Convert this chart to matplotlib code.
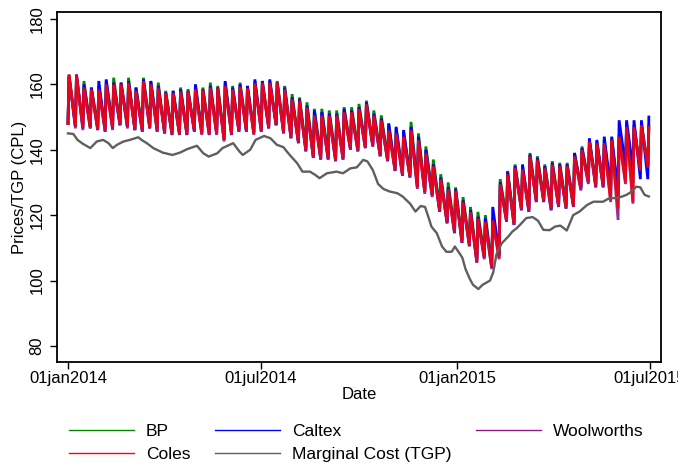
import matplotlib
matplotlib.use('Agg')
import matplotlib.pyplot as plt
from matplotlib.lines import Line2D
import pandas as pd

plt.rcParams['font.family'] = ['Liberation Sans', 'DejaVu Sans']

# weekly price cycles: restoration peak, then trough just before the next restoration
peak_dates = pd.date_range('2014-01-02', '2015-06-30', periods=79)
start_price = 148

coles_peak = [163, 163, 159, 158.5, 158.5, 160, 160, 160, 160.5, 158, 161, 160, 159,
              157.3, 157.3, 157.8, 157.8, 158.5, 158.3, 159, 158.8, 159.5, 158.5, 159.3, 158.8, 160.3, 160.5,
              160.5, 160.5, 158.5, 155.5, 155, 153, 150.5, 150.5, 150.5, 150.5, 151.5, 151.5, 152.5,
              154, 150.5, 149, 146, 145, 144, 146, 143, 139, 135, 131, 128, 127.5,
              124, 121, 119, 118, 118.5, 129.5, 132.5, 134.5, 134, 138, 137, 134.5, 135.5,
              135, 135, 138, 140, 142.5, 142, 142, 143, 144, 147, 147, 147.5, 147]
coles_trough = [147.5, 147, 147, 146.5, 146, 147, 148, 147.5, 146.5, 146, 147, 146, 145.5,
                145, 145, 145, 146, 145, 145, 145, 143, 145, 146, 146, 145, 146, 147,
                148, 145.5, 144, 142.5, 140, 138, 137.5, 137.5, 137, 137.5, 140.5, 140, 141,
                141.5, 138.5, 137, 134, 132.5, 132, 128.7, 127.2, 126.2, 121.5, 118, 115, 112,
                111, 106, 107.3, 104.3, 107, 118.5, 117.6, 122, 121.6, 124.6, 124.6, 122.2, 123,
                122.6, 123, 128.3, 130.2, 129.2, 129.2, 124.6, 122, 130, 124, 134, 135]

bp_peak = [163, 162.5, 161, 159, 159.5, 161, 162, 160.5, 162, 159, 162, 161, 160.5,
           158, 158, 159, 158.5, 159.5, 159, 160.5, 159.5, 160.5, 159.5, 160.5, 159.5, 161, 161,
           161, 161, 159.5, 157, 156, 154.5, 152.5, 152.5, 152, 152, 153, 153, 154,
           155, 152, 150.5, 148, 146.5, 145.5, 148.5, 145, 141, 137, 132.5, 130, 128.5,
           125.5, 122.5, 121, 120, 119, 131, 133.5, 135.5, 135, 139, 138, 135.5, 136.5,
           136, 136, 139, 141, 143, 142.5, 143, 143.5, 144.5, 147, 147.5, 148, 147.5]
bp_trough = [147, 147.5, 146.5, 147, 146.5, 147.5, 147.5, 147, 146, 146.5, 147.5, 146.5, 145,
             145.5, 144.5, 145.5, 146, 145.5, 145.5, 145, 144, 145.5, 146, 146.5, 145.5, 146.5, 147,
             147.5, 146, 144.5, 142.5, 140.5, 138.5, 138, 138, 137.5, 138, 140.5, 140.5, 141.5,
             141.5, 139, 137.5, 134.5, 133, 132.5, 129, 127.5, 126.5, 122, 118, 115.5, 112.5,
             111.5, 106.5, 107.5, 105, 107.5, 119, 118, 122.5, 122, 125, 125, 122.5, 123.5,
             123, 123.5, 128.5, 130.5, 129.5, 129.5, 126, 125, 131, 130, 134, 135]

caltex_peak = [162.5, 163, 160, 159, 161, 161.5, 160.5, 160.5, 161, 159, 161.5, 161, 159.5,
               157.5, 158, 158.5, 158, 160, 158.5, 159.5, 159, 161, 159, 160, 159.5, 161.5, 161,
               161.5, 160.5, 159, 156, 155.5, 153.5, 152, 151.5, 151, 151, 152.5, 152, 153,
               154.5, 151, 149.5, 148, 147, 146, 147, 144, 140, 135.5, 131.5, 128.5, 128,
               124.5, 121.5, 119.5, 119, 122.5, 130, 133.3, 135, 135.5, 138.5, 137.5, 135, 136,
               135.5, 135.5, 139, 140.5, 143.5, 143, 144, 144, 149, 149, 149, 149, 150]
caltex_trough = [147, 146.5, 147, 146, 145.5, 146.5, 147.5, 147, 146, 145.5, 146.5, 145.5, 145,
                 144.5, 145, 144.5, 145.5, 145, 144.5, 145, 143, 144.5, 145.5, 145.5, 145, 145.5, 146.5,
                 147.5, 145, 143.5, 142, 139.5, 137.5, 137, 137, 136.5, 137, 140, 139.5, 140.5,
                 141, 138, 136.5, 133.5, 132, 131.5, 128.5, 127, 126, 121, 117.5, 114.5, 111.5,
                 110.5, 105.5, 107, 104, 108, 118, 117, 121.5, 121, 124, 124, 121.5, 122.5,
                 122, 122.5, 128, 130, 128.5, 128.5, 128, 127.5, 135, 134, 131, 131]

woolworths_peak = [162.5, 162.5, 158.5, 158, 158, 159.5, 159.5, 159.5, 160, 157.5, 160.5, 159.5, 158.5,
                   157, 157, 157.5, 157.5, 158, 158, 158.5, 158.5, 159, 158, 159, 158.5, 160, 160,
                   160, 160, 158, 155, 154.5, 152.5, 150, 150, 150, 150, 151, 151, 152,
                   153.5, 150, 148.5, 145.5, 144.5, 143.5, 145.5, 142.5, 138.5, 134.5, 130.5, 127.5, 127,
                   123.5, 120.5, 118.5, 117.5, 118, 129, 132, 134, 133.5, 137.5, 136.5, 134, 135,
                   134.5, 134.5, 137.5, 139.5, 142, 141.5, 141.5, 142.5, 143.5, 146.5, 146.5, 147, 146.5]
woolworths_trough = [146.5, 146, 146.5, 146, 145.5, 146, 147.5, 146.5, 146, 145.5, 146.5, 145.5, 145,
                     144.5, 144.5, 144.5, 145.5, 144.5, 144.5, 144.5, 142.5, 144.5, 145.5, 145.5, 144.5, 145.5, 146.5,
                     147.5, 145, 143.5, 142, 139.5, 137.5, 137, 137, 136.5, 137, 140, 139.5, 140.5,
                     141, 138, 136.5, 133.5, 132, 131.5, 128, 126.5, 125.5, 121, 117.5, 114.5, 111.5,
                     110.5, 105.5, 106.5, 103.5, 106.5, 118, 117, 121.5, 121, 124, 124, 121.5, 122.5,
                     122, 122.5, 127.5, 129.5, 128.5, 128.5, 124, 118.5, 129.5, 123.5, 133.5, 134.5]

# marginal cost (terminal gate price), days since 01jan2014
mc_day = [0, 5, 9, 14, 21, 27, 33, 38, 42, 46, 52, 58, 66, 69, 74, 80, 89, 98, 105, 112,
          121, 127, 132, 140, 145, 155, 161, 164, 171, 176, 184, 190, 196, 202, 208, 215, 220, 227, 232, 236,
          243, 252, 258, 265, 271, 277, 281, 286, 291, 296, 302, 309, 314, 321, 326, 331, 335, 338, 341, 346,
          351, 355, 360, 363, 367, 370, 373, 377, 380, 385, 389, 396, 399, 402, 407, 413, 417, 421, 424, 430,
          436, 441, 446, 452, 457, 462, 468, 474, 480, 487, 493, 502, 508, 515, 520, 524, 529, 533, 537, 541, 545]
mc_val = [145, 144.8, 143, 141.8, 140.5, 142.5, 143, 142, 140.5, 141.5, 142.5, 143, 143.8, 143, 142, 140.5, 139.1, 138.4, 139.1, 140.2,
          141.2, 138.9, 137.9, 138.9, 140.5, 142, 139.4, 138.4, 140, 143, 144.2, 143.5, 141.5, 140.8, 138.4, 135.9, 133.3, 133.3, 132.3, 131.3,
          132.8, 133.3, 132.8, 134.3, 134.6, 136.9, 136.4, 133.8, 129.5, 128, 127.2, 126.7, 125.7, 123.5, 121.1, 122.8, 122.5, 119.6, 116.5, 114.5,
          110.4, 108.8, 108.8, 110.4, 108.5, 107, 103.5, 100.5, 98.7, 97.4, 98.7, 100, 102.5, 108, 111.4, 113.4, 115, 116, 117, 119.1,
          119.4, 118.3, 115.5, 115.4, 116.5, 116.8, 115.3, 120, 121.1, 123.1, 124.1, 124.1, 125.2, 125.2, 125.7, 126.2, 127.2, 128.7, 128.5, 126.2, 125.7]

xtick_dates = ['2014-01-01', '2014-07-01', '2015-01-01', '2015-07-01']
xtick_labels = ['01jan2014', '01jul2014', '01jan2015', '01jul2015']
ytick_vals = [80, 100, 120, 140, 160, 180]

day0 = pd.Timestamp('2014-01-01')


def build_cycle(peaks, troughs, start):
    d = [day0]
    v = [start]
    for k, p in enumerate(peaks):
        d.append(peak_dates[k])
        v.append(p)
        if k < len(troughs):
            d.append(peak_dates[k] + pd.Timedelta(days=6))
            v.append(troughs[k])
    return d, v


fig = plt.figure(figsize=(6.78, 4.62), dpi=100)
ax = fig.add_axes([57 / 678, 1 - 362 / 462, (661 - 57) / 678, (362 - 12) / 462])

series = [
    ('BP', bp_peak, bp_trough, '#008a00', 1.0),
    ('Caltex', caltex_peak, caltex_trough, '#0000ff', 1.0),
    ('Woolworths', woolworths_peak, woolworths_trough, '#8a1a8a', 0.9),
    ('Coles', coles_peak, coles_trough, '#ff0000', 0.8),
]
for name, pk, tr, col, a in series:
    d, v = build_cycle(pk, tr, start_price)
    ax.plot(d, v, color=col, lw=2.0, alpha=a, solid_joinstyle='miter')

mc_dates = [day0 + pd.Timedelta(days=x) for x in mc_day]
ax.plot(mc_dates, mc_val, color='#5f5f5f', lw=1.7)

ax.set_xlim(day0 - pd.Timedelta(days=10.3), day0 + pd.Timedelta(days=556.4))
ax.set_ylim(75.1, 182.1)
ax.set_xticks(pd.to_datetime(xtick_dates))
ax.set_xticklabels(xtick_labels)
ax.set_yticks(ytick_vals)
ax.set_yticklabels([str(t) for t in ytick_vals], rotation=90, va='center')
ax.tick_params(direction='out', length=5, width=1, color='black')
ax.tick_params(axis='x', labelsize=12, pad=1.5)
ax.tick_params(axis='y', labelsize=12, pad=4)
for s in ax.spines.values():
    s.set_linewidth(1.3)
ax.set_xlabel('Date', fontsize=12, labelpad=1)
ax.set_ylabel('Prices/TGP (CPL)', fontsize=12, labelpad=2)

handles = [
    Line2D([], [], color='#008a00', lw=1),
    Line2D([], [], color='#ff0000', lw=1),
    Line2D([], [], color='#0000ff', lw=1),
    Line2D([], [], color='#5f5f5f', lw=1),
    Line2D([], [], color='#8a1a8a', lw=1),
]
labels = ['BP', 'Coles', 'Caltex', 'Marginal Cost (TGP)', 'Woolworths']
fig.legend(handles, labels, ncol=3, loc='upper left', bbox_to_anchor=(60 / 678, 1 - 415 / 462),
           frameon=False, fontsize=12.5, handlelength=3.75, handletextpad=0.7,
           columnspacing=1.4, labelspacing=0.45, borderpad=0)

fig.savefig('out.png', dpi=100)
